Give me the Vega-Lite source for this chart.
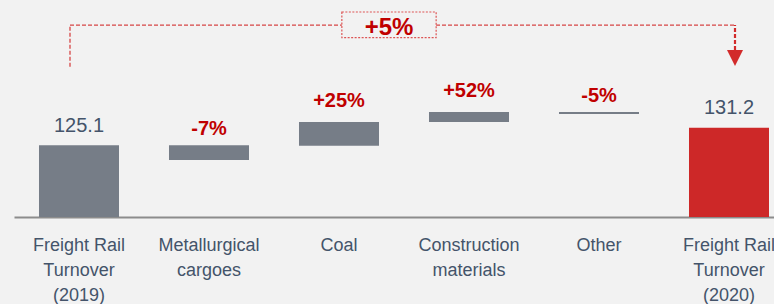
{
  "$schema": "https://vega.github.io/schema/vega-lite/v6.json",
  "width": 774,
  "height": 217,
  "autosize": {"type": "none"},
  "padding": {"left": 0, "top": 0, "right": 0, "bottom": 87},
  "background": "#F2F2F2",
  "config": {"view": {"stroke": null}, "font": "Liberation Sans"},
  "datasets": {
    "bars": [
      {"cat": "Freight Rail|Turnover|(2019)", "start": 100, "end": 125.1, "label": "125.1", "kind": "total"},
      {"cat": "Metallurgical|cargoes", "start": 125.1, "end": 119.9, "label": "-7%", "kind": "delta"},
      {"cat": "Coal", "start": 124.9, "end": 133.2, "label": "+25%", "kind": "delta"},
      {"cat": "Construction|materials", "start": 133.2, "end": 136.7, "label": "+52%", "kind": "delta"},
      {"cat": "Other", "start": 136.7, "end": 136.0, "label": "-5%", "kind": "delta"},
      {"cat": "Freight Rail|Turnover|(2020)", "start": 100, "end": 131.2, "label": "131.2", "kind": "final"}
    ]
  },
  "encoding": {
    "x": {
      "field": "cat",
      "type": "nominal",
      "sort": null,
      "scale": {
        "domain": ["Freight Rail|Turnover|(2019)", "Metallurgical|cargoes", "Coal", "Construction|materials", "Other", "Freight Rail|Turnover|(2020)"],
        "range": [14, 794],
        "paddingInner": 0.3846,
        "paddingOuter": 0.1923
      },
      "axis": {
        "title": null,
        "domain": true,
        "domainColor": "#8C8C8C",
        "domainWidth": 2,
        "ticks": false,
        "tickSize": 0,
        "labelAngle": 0,
        "labelFont": "Liberation Sans",
        "labelFontSize": 18,
        "labelColor": "#44546A",
        "labelLineHeight": 25,
        "labelPadding": 19,
        "labelBaseline": "top",
        "labelExpr": "split(datum.label, '|')",
        "grid": false
      }
    }
  },
  "layer": [
    {
      "data": {"name": "bars"},
      "mark": {"type": "bar"},
      "encoding": {
        "y": {"field": "start", "type": "quantitative", "scale": {"domain": [100, 175.87], "nice": false, "zero": false}, "axis": null},
        "y2": {"field": "end"},
        "color": {"field": "kind", "type": "nominal", "scale": {"domain": ["total", "delta", "final"], "range": ["#767D87", "#767D87", "#CD2828"]}, "legend": null}
      }
    },
    {
      "data": {"name": "bars"},
      "transform": [{"filter": "datum.kind != 'delta'"}],
      "mark": {"type": "text", "fontSize": 20, "color": "#44546A", "baseline": "alphabetic", "dy": -13.5},
      "encoding": {
        "y": {"field": "end", "type": "quantitative"},
        "text": {"field": "label"}
      }
    },
    {
      "data": {"name": "bars"},
      "transform": [{"filter": "datum.kind == 'delta' && datum.end >= datum.start"}],
      "mark": {"type": "text", "fontSize": 20, "fontWeight": "bold", "color": "#C00000", "baseline": "alphabetic", "dy": -15},
      "encoding": {
        "y": {"field": "end", "type": "quantitative"},
        "text": {"field": "label"}
      }
    },
    {
      "data": {"name": "bars"},
      "transform": [{"filter": "datum.kind == 'delta' && datum.end < datum.start"}],
      "mark": {"type": "text", "fontSize": 20, "fontWeight": "bold", "color": "#C00000", "baseline": "alphabetic", "dy": -10},
      "encoding": {
        "y": {"field": "start", "type": "quantitative"},
        "text": {"field": "label"}
      }
    },
    {
      "data": {"values": [{"cat": "Freight Rail|Turnover|(2019)", "low": 152.5, "high": 167.1}]},
      "mark": {"type": "rule", "color": "#D64545", "strokeWidth": 1.3, "strokeDash": [4, 2], "xOffset": -9},
      "encoding": {
        "y": {"field": "low", "type": "quantitative"},
        "y2": {"field": "high"}
      }
    },
    {
      "data": {"values": [{"from": "Freight Rail|Turnover|(2019)", "to": "Freight Rail|Turnover|(2020)", "level": 167.1}]},
      "mark": {"type": "rule", "color": "#D64545", "strokeWidth": 1.3, "strokeDash": [4, 2], "xOffset": -9, "x2Offset": 6},
      "encoding": {
        "x": {"field": "from", "type": "nominal"},
        "x2": {"field": "to"},
        "y": {"field": "level", "type": "quantitative"}
      }
    },
    {
      "data": {"values": [{"cat": "Freight Rail|Turnover|(2020)", "low": 158.4, "high": 167.1}]},
      "mark": {"type": "rule", "color": "#D22B2B", "strokeWidth": 2.2, "strokeDash": [4, 2], "xOffset": 6},
      "encoding": {
        "y": {"field": "low", "type": "quantitative"},
        "y2": {"field": "high"}
      }
    },
    {
      "data": {"values": [{"cat": "Freight Rail|Turnover|(2020)", "tip": 155.6}]},
      "mark": {"type": "point", "shape": "M-1,-1L1,-1L0,1Z", "size": 256, "filled": true, "color": "#D22B2B", "opacity": 1, "xOffset": 6},
      "encoding": {
        "y": {"field": "tip", "type": "quantitative"}
      }
    },
    {
      "data": {"values": [{"cat": "Coal", "mid": 167.19}]},
      "mark": {"type": "point", "shape": "M-1,-0.2725L1,-0.2725L1,0.2725L-1,0.2725Z", "size": 8892, "fill": "#F2F2F2", "fillOpacity": 1, "stroke": "#DD5555", "strokeWidth": 1.2, "strokeDash": [2, 1.5], "opacity": 1, "xOffset": 50},
      "encoding": {
        "y": {"field": "mid", "type": "quantitative"}
      }
    },
    {
      "data": {"values": [{"cat": "Coal", "base": 163.64, "label": "+5%"}]},
      "mark": {"type": "text", "fontSize": 24, "fontWeight": "bold", "color": "#C00000", "baseline": "alphabetic", "xOffset": 50},
      "encoding": {
        "y": {"field": "base", "type": "quantitative"},
        "text": {"field": "label"}
      }
    }
  ]
}
